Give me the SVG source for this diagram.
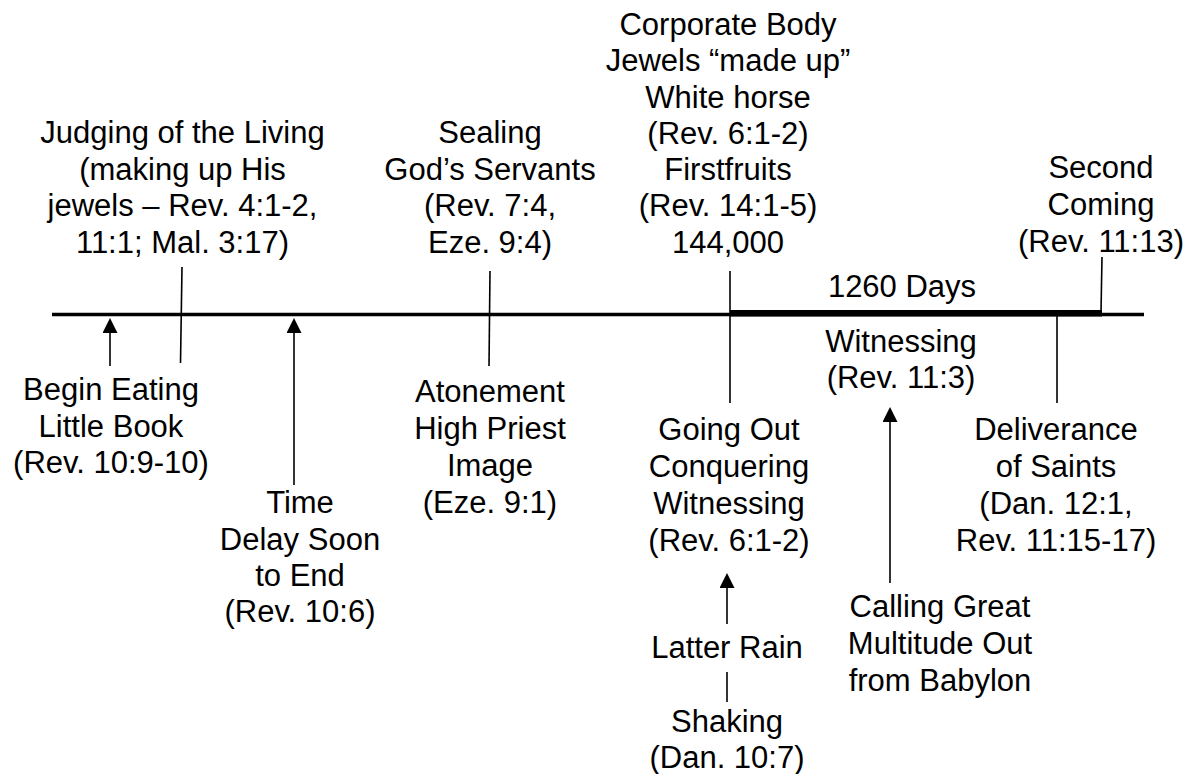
<svg xmlns="http://www.w3.org/2000/svg" width="1199" height="774" viewBox="0 0 1199 774">
<defs>
<style>
text{font-family:"Liberation Sans",Arial,sans-serif;font-size:31px;fill:#000;text-anchor:middle}
.ln{stroke:#000;stroke-width:1.6;fill:none}
.ar{stroke:#000;stroke-width:1.6;fill:none;marker-end:url(#ah)}
</style>
<marker id="ah" markerUnits="userSpaceOnUse" markerWidth="15" markerHeight="15" viewBox="0 0 15 15" refX="0" refY="7.5" orient="auto">
<path d="M0,0 L15,7.5 L0,15 Z" fill="#000"/>
</marker>
</defs>
<rect width="1199" height="774" fill="#fff"/>
<g id="connectors">
<line x1="52" y1="314.5" x2="1144" y2="314.5" stroke="#000" stroke-width="3.4"/>
<rect x="730" y="310" width="372" height="6.5" fill="#000"/>
<line class="ln" x1="182" y1="267" x2="180.5" y2="363"/>
<line class="ln" x1="490" y1="271" x2="489" y2="366"/>
<line class="ln" x1="730" y1="271" x2="730" y2="403"/>
<line class="ln" x1="1102" y1="257" x2="1101" y2="312"/>
<line class="ln" x1="1057" y1="316" x2="1057" y2="403"/>
<line class="ln" x1="727" y1="672" x2="727" y2="702"/>
<line class="ar" x1="110" y1="366" x2="110" y2="333"/>
<line class="ar" x1="294" y1="485" x2="294" y2="333"/>
<line class="ar" x1="890" y1="583" x2="890" y2="422"/>
<line class="ar" x1="727" y1="624" x2="727" y2="588"/>
</g>
<g id="judging">
<text x="182.5" y="143">Judging of the Living</text>
<text x="182.5" y="180">(making up His</text>
<text x="182.5" y="216">jewels – Rev. 4:1-2,</text>
<text x="182.5" y="253">11:1; Mal. 3:17)</text>
</g>
<g id="sealing">
<text x="490" y="143">Sealing</text>
<text x="490" y="180">God’s Servants</text>
<text x="490" y="216">(Rev. 7:4,</text>
<text x="490" y="253">Eze. 9:4)</text>
</g>
<g id="corporate">
<text x="728" y="35">Corporate Body</text>
<text x="728" y="71">Jewels “made up”</text>
<text x="728" y="108">White horse</text>
<text x="728" y="144">(Rev. 6:1-2)</text>
<text x="728" y="180">Firstfruits</text>
<text x="728" y="216">(Rev. 14:1-5)</text>
<text x="728" y="253">144,000</text>
</g>
<g id="second-coming">
<text x="1101" y="178">Second</text>
<text x="1101" y="215">Coming</text>
<text x="1101" y="252">(Rev. 11:13)</text>
</g>
<g id="days">
<text x="902" y="297">1260 Days</text>
</g>
<g id="witnessing">
<text x="901" y="352">Witnessing</text>
<text x="901" y="388">(Rev. 11:3)</text>
</g>
<g id="begin-eating">
<text x="111" y="400">Begin Eating</text>
<text x="111" y="437">Little Book</text>
<text x="111" y="473">(Rev. 10:9-10)</text>
</g>
<g id="time-delay">
<text x="300" y="513">Time</text>
<text x="300" y="550">Delay Soon</text>
<text x="300" y="586">to End</text>
<text x="300" y="622">(Rev. 10:6)</text>
</g>
<g id="atonement">
<text x="490" y="402">Atonement</text>
<text x="490" y="439">High Priest</text>
<text x="490" y="476">Image</text>
<text x="490" y="513">(Eze. 9:1)</text>
</g>
<g id="going-out">
<text x="729" y="440">Going Out</text>
<text x="729" y="477">Conquering</text>
<text x="729" y="514">Witnessing</text>
<text x="729" y="551">(Rev. 6:1-2)</text>
</g>
<g id="deliverance">
<text x="1056" y="440">Deliverance</text>
<text x="1056" y="477">of Saints</text>
<text x="1056" y="514">(Dan. 12:1,</text>
<text x="1056" y="551">Rev. 11:15-17)</text>
</g>
<g id="calling">
<text x="940" y="617">Calling Great</text>
<text x="940" y="654">Multitude Out</text>
<text x="940" y="691">from Babylon</text>
</g>
<g id="latter-rain">
<text x="727" y="658">Latter Rain</text>
</g>
<g id="shaking">
<text x="727" y="732">Shaking</text>
<text x="727" y="768">(Dan. 10:7)</text>
</g>
</svg>
